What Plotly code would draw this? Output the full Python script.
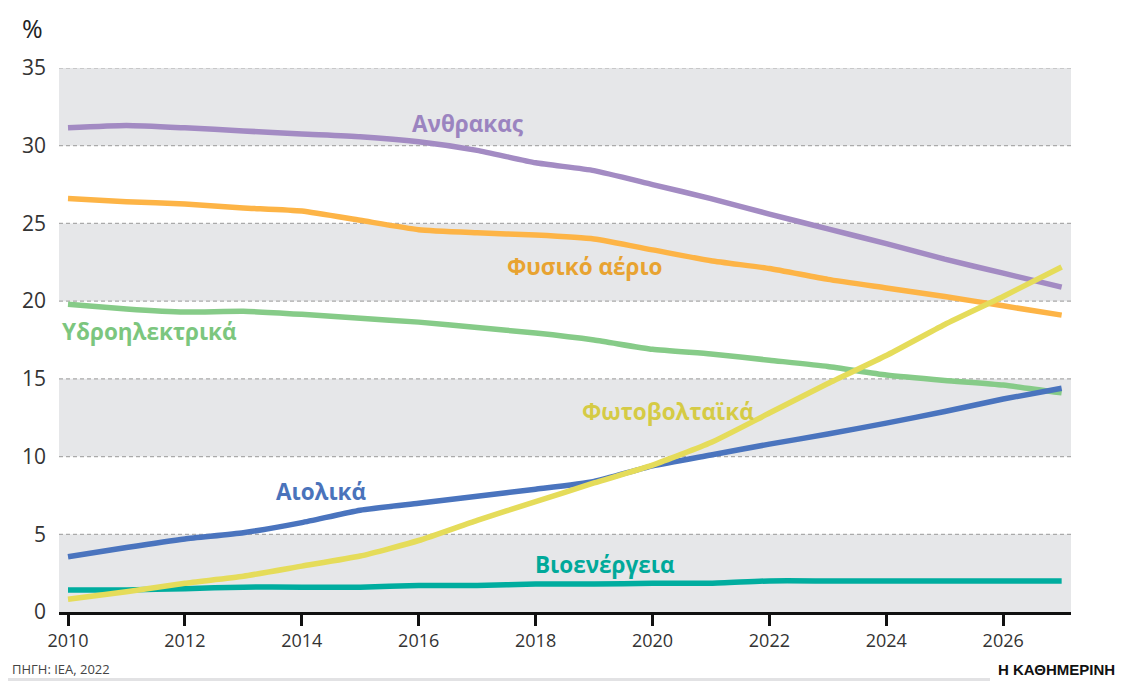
import plotly.graph_objects as go

years = list(range(2010, 2028))

coal = [31.15, 31.3, 31.15, 30.95, 30.75, 30.57, 30.25, 29.7, 28.9, 28.4, 27.5, 26.6, 25.6, 24.65, 23.7, 22.7, 21.8, 20.9]
gas = [26.6, 26.4, 26.25, 26.0, 25.8, 25.2, 24.6, 24.4, 24.25, 24.0, 23.3, 22.6, 22.1, 21.4, 20.85, 20.3, 19.7, 19.1]
hydro = [19.8, 19.5, 19.3, 19.35, 19.15, 18.9, 18.65, 18.3, 17.95, 17.5, 16.9, 16.6, 16.2, 15.8, 15.25, 14.9, 14.6, 14.1]
wind = [3.55, 4.15, 4.7, 5.1, 5.75, 6.55, 7.0, 7.45, 7.9, 8.4, 9.4, 10.1, 10.8, 11.45, 12.15, 12.9, 13.7, 14.4]
solar = [0.82, 1.3, 1.85, 2.3, 2.95, 3.6, 4.6, 5.9, 7.1, 8.3, 9.45, 10.9, 12.8, 14.7, 16.5, 18.5, 20.3, 22.2]
bio = [1.42, 1.42, 1.5, 1.6, 1.6, 1.6, 1.7, 1.7, 1.8, 1.8, 1.85, 1.85, 2.0, 2.0, 2.0, 2.0, 2.0, 2.0]

names = ["Βιοενέργεια", "Υδροηλεκτρικά", "Φυσικό αέριο", "Ανθρακας", "Αιολικά", "Φωτοβολταϊκά"]
series = [bio, hydro, gas, coal, wind, solar]
line_colors = ["#00ad9f", "#86cb88", "#fdb446", "#a38bc3", "#4a74be", "#e5dc5a"]
label_colors = ["#00a99a", "#7cc67e", "#e8a331", "#9b84c0", "#4a73bb", "#d5cb45"]
# label anchor positions (year, value)
label_pos = [(2019.19, 3.07), (2011.4, 18.07), (2018.85, 22.25), (2016.84, 31.4), (2014.34, 7.77), (2020.27, 12.9)]

x_ticks = list(range(2010, 2027, 2))
y_ticks = list(range(0, 36, 5))

# page has an 8px body margin; figure coordinates = screen - 8
OFF = 8
W, H = 1127, 673
L, T = 59 - OFF, 68 - OFF
R = W - (1071 - OFF)
B = H - (612 - OFF)
PW, PH = W - L - R, H - T - B

def px(x):
    return (x - OFF - L) / PW

def py(y):
    return (H - B - (y - OFF)) / PH

fig = go.Figure()

for name, vals, c in zip(names, series, line_colors):
    fig.add_trace(go.Scatter(x=years, y=vals, mode="lines", name=name,
                             line=dict(color=c, width=5.5, shape="spline", smoothing=0.5),
                             hoverinfo="x+y+name"))

shapes = []
for lo in (0, 10, 20, 30):
    shapes.append(dict(type="rect", xref="paper", yref="y", x0=0, x1=1, y0=lo, y1=lo + 5,
                       fillcolor="#e6e7e9", line=dict(width=0), layer="below"))
for yv in y_ticks[1:]:
    shapes.append(dict(type="line", xref="paper", yref="y", x0=0, x1=1, y0=yv, y1=yv,
                       line=dict(color="#aaaaaa", width=1.2, dash="4px,3px"), layer="below"))
# bottom footer bar
shapes.append(dict(type="rect", xref="paper", yref="paper", x0=px(7), x1=px(990), y0=py(681), y1=py(678),
                   fillcolor="#e2e2e4", line=dict(width=0), layer="below"))

annotations = []
for name, (xv, yv), c in zip(names, label_pos, label_colors):
    annotations.append(dict(x=xv, y=yv, xref="x", yref="y", text="<b>" + name + "</b>", showarrow=False,
                            font=dict(family="Open Sans", size=22.5, color=c), xanchor="center", yanchor="middle"))
annotations.append(dict(x=px(20), y=py(28), xref="paper", yref="paper", text="%", showarrow=False,
                        font=dict(family="Open Sans", size=25, color="#222222"), xanchor="left", yanchor="middle"))
annotations.append(dict(x=px(10), y=py(669), xref="paper", yref="paper", text="ΠΗΓΗ: IEA, 2022", showarrow=False,
                        font=dict(family="Open Sans", size=13, color="#444444"), xanchor="left", yanchor="middle"))
annotations.append(dict(x=px(996), y=py(680), xref="paper", yref="paper", text="<b>Η ΚΑΘΗΜΕΡΙΝΗ</b>", showarrow=False,
                        font=dict(family="Liberation Sans", size=15, color="#111111"), xanchor="left", yanchor="bottom"))

fig.update_layout(
    width=W, height=H,
    margin=dict(l=L, r=R, t=T, b=B),
    paper_bgcolor="white", plot_bgcolor="white",
    showlegend=False,
    shapes=shapes, annotations=annotations,
    font=dict(family="Open Sans", color="#333333"),
    xaxis=dict(range=[2009.846, 2027.16], tickvals=x_ticks, ticktext=[str(v) for v in x_ticks],
               showgrid=False, zeroline=False, showline=True, linecolor="#111111", linewidth=2.5,
               ticks="outside", ticklen=11, tickwidth=2.5, tickcolor="#111111",
               tickfont=dict(family="Open Sans", size=18, color="#333333"), fixedrange=True),
    yaxis=dict(range=[0, 35], tickvals=y_ticks, ticktext=[str(v) for v in y_ticks],
               showgrid=False, zeroline=False, showline=False, ticks="",
               ticklabelstandoff=12,
               tickfont=dict(family="Open Sans", size=21, color="#333333"), fixedrange=True),
)

fig.write_html("out.html")
